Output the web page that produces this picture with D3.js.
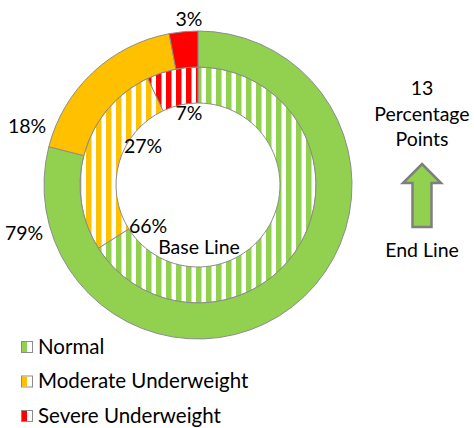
<!DOCTYPE html>
<html>
<head>
<meta charset="utf-8">
<script src="https://cdn.jsdelivr.net/npm/d3@7"></script>
<style>
  body { margin: 0; background: #fff; }
  text { font-family: Lato, "Open Sans", sans-serif; fill: #000; }
</style>
</head>
<body>
<script>
"use strict";
(function(){
    // data
    const categories = ["Normal", "Moderate Underweight", "Severe Underweight"]
    const endLine = [79, 18, 3]     // outer ring
    const baseLine = [66, 27, 7]    // inner ring
    const changeValue = 13
    const colorList = ["#92D050", "#FFC000", "#FF0000"]

    const measurements = {
        width: 474,
        height: 428,
        cx: 198,
        cy: 185,
        outerR: 154,
        midR: 118,
        innerR: 82
    }

    const svg = d3.select("body").append("svg")
        .attr("width", measurements.width)
        .attr("height", measurements.height)

    // striped patterns for base line ring
    const defs = svg.append("defs")
    colorList.forEach(function(c, i) {
        let p = defs.append("pattern")
            .attr("id", "stripe" + i)
            .attr("patternUnits", "userSpaceOnUse")
            .attr("x", measurements.cx)
            .attr("y", 0)
            .attr("width", 10)
            .attr("height", 10)
        p.append("rect").attr("width", 10).attr("height", 10).attr("fill", "#fff")
        p.append("rect").attr("width", 5.5).attr("height", 10).attr("fill", c)
    })

    const pie = d3.pie().sort(null).value(d => d)
    const g = svg.append("g")
        .attr("transform", "translate(" + measurements.cx + "," + measurements.cy + ")")

    const outerArc = d3.arc().innerRadius(measurements.midR).outerRadius(measurements.outerR)
    const innerArc = d3.arc().innerRadius(measurements.innerR).outerRadius(measurements.midR)

    g.selectAll(".inner")
        .data(pie(baseLine))
        .enter()
        .append("path")
        .attr("d", innerArc)
        .attr("fill", (d, i) => "url(#stripe" + i + ")")
        .attr("stroke", "#8c8c8c")
        .attr("stroke-width", 1)

    g.selectAll(".outer")
        .data(pie(endLine))
        .enter()
        .append("path")
        .attr("d", outerArc)
        .attr("fill", (d, i) => colorList[i])
        .attr("stroke", "#8c8c8c")
        .attr("stroke-width", 1)

    // percentage labels (placed like the original)
    const fs = 19.5
    const outerLabelPos = [[24, 240], [27, 133], [189, 26]]
    const innerLabelPos = [[148, 233], [143, 153], [189, 120]]
    endLine.forEach(function(v, i) {
        svg.append("text")
            .attr("x", outerLabelPos[i][0]).attr("y", outerLabelPos[i][1])
            .attr("text-anchor", "middle").attr("font-size", fs)
            .text(v + "%")
    })
    baseLine.forEach(function(v, i) {
        svg.append("text")
            .attr("x", innerLabelPos[i][0]).attr("y", innerLabelPos[i][1])
            .attr("text-anchor", "middle").attr("font-size", fs)
            .text(v + "%")
    })
    svg.append("text")
        .attr("x", 199).attr("y", 254)
        .attr("text-anchor", "middle").attr("font-size", fs)
        .text("Base Line")

    // right side annotation
    const note = [String(changeValue), "Percentage", "Points"]
    note.forEach(function(t, i) {
        svg.append("text")
            .attr("x", 422).attr("y", 95 + i * 25.5)
            .attr("text-anchor", "middle").attr("font-size", fs)
            .text(t)
    })
    const ax = 422
    const arrow = d3.path()
    arrow.moveTo(ax, 164)
    arrow.lineTo(ax + 19, 183)
    arrow.lineTo(ax + 9.5, 183)
    arrow.lineTo(ax + 9.5, 227)
    arrow.lineTo(ax - 9.5, 227)
    arrow.lineTo(ax - 9.5, 183)
    arrow.lineTo(ax - 19, 183)
    arrow.closePath()
    svg.append("path")
        .attr("d", arrow.toString())
        .attr("fill", "#92D050")
        .attr("stroke", "#7f7f7f")
        .attr("stroke-width", 2.5)
    svg.append("text")
        .attr("x", 422).attr("y", 257)
        .attr("text-anchor", "middle").attr("font-size", fs)
        .text("End Line")

    // legend
    categories.forEach(function(c, i) {
        let y = 341 + i * 34.5
        svg.append("rect")
            .attr("x", 21.5).attr("y", y + 0.5)
            .attr("width", 11).attr("height", 11)
            .attr("fill", "#fff").attr("stroke", "#8c8c8c")
        svg.append("rect")
            .attr("x", 22).attr("y", y + 1)
            .attr("width", 5).attr("height", 10)
            .attr("fill", colorList[i])
        svg.append("text")
            .attr("x", 38).attr("y", y + 12.5)
            .attr("font-size", 20.5)
            .text(c)
    })
})()
</script>
</body>
</html>
